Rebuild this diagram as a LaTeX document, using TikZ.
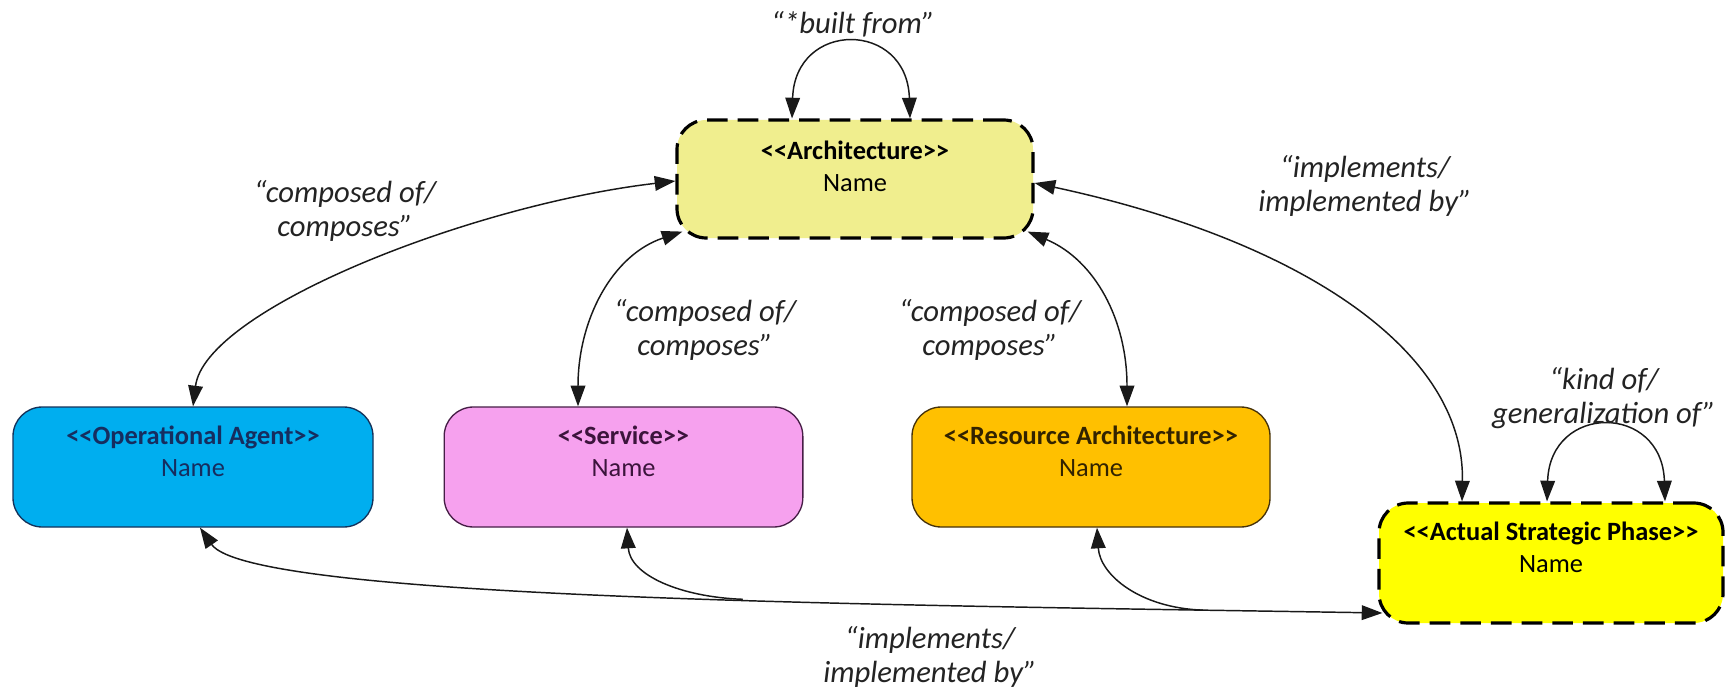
\documentclass[tikz,border=0pt]{standalone}
\usepackage{fontspec}
\setmainfont{Carlito}
\usetikzlibrary{arrows.meta,calc}

\definecolor{archfill}{RGB}{240,238,142}
\definecolor{agentfill}{RGB}{0,174,239}
\definecolor{servicefill}{RGB}{246,161,238}
\definecolor{resourcefill}{RGB}{255,192,0}
\definecolor{phasefill}{RGB}{255,255,0}
\definecolor{agentedge}{RGB}{20,50,90}
\definecolor{serviceedge}{RGB}{70,30,70}
\definecolor{resourceedge}{RGB}{70,50,10}
\definecolor{agentink}{RGB}{22,45,95}
\definecolor{serviceink}{RGB}{60,20,60}
\definecolor{resourceink}{RGB}{50,35,0}
\definecolor{inkline}{RGB}{25,25,25}
\definecolor{labelink}{RGB}{35,35,35}

\begin{document}
\begin{tikzpicture}[x=0.75pt, y=-0.75pt,
  >={Triangle[length=15.5pt,width=11pt]},
  solidbox/.style={rectangle, rounded corners=22pt, inner sep=0pt,
    minimum height=90pt, line width=1pt},
  dashbox/.style={rectangle, rounded corners=22pt, inner sep=0pt,
    minimum height=90pt, line width=2.4pt, draw=black,
    dash pattern=on 15.5pt off 7.5pt},
  stereo/.style={align=center, inner sep=0pt,
    font=\fontsize{19.8}{24}\selectfont},
  relabel/.style={align=center, inner sep=0pt, text=labelink,
    font=\fontsize{23}{26}\selectfont\itshape},
  link/.style={draw=inkline, line width=1.1pt},
]
\fill[white] (0,0) rectangle (1726,688);
\path[use as bounding box] (0,0) rectangle (1726,688);

% element boxes
\node[dashbox, fill=archfill, minimum width=267pt, minimum height=88.5pt] (arch) at (855,179) {};
\node[solidbox, fill=agentfill, draw=agentedge, minimum width=270pt] (oa) at (193,467) {};
\node[solidbox, fill=servicefill, draw=serviceedge, minimum width=269pt] (svc) at (623.5,467) {};
\node[solidbox, fill=resourcefill, draw=resourceedge, minimum width=268.5pt] (res) at (1091,467) {};
\node[dashbox, fill=phasefill, minimum width=258pt] (asp) at (1551,563) {};

% stereotype and name inside each box
\node[stereo] (arch-text) at ($(arch.center)+(0,-13)$) {\textbf{<\kern0pt<Architecture>\kern0pt>}\\Name};
\node[stereo, text=agentink] (oa-text) at ($(oa.center)+(0,-16)$) {\textbf{<\kern0pt<Operational Agent>\kern0pt>}\\Name};
\node[stereo, text=serviceink] (svc-text) at ($(svc.center)+(0,-16)$) {\textbf{<\kern0pt<Service>\kern0pt>}\\Name};
\node[stereo, text=resourceink] (res-text) at ($(res.center)+(0,-16)$) {\textbf{<\kern0pt<Resource Architecture>\kern0pt>}\\Name};
\node[stereo] (asp-text) at ($(asp.center)+(0,-16)$) {\textbf{<\kern0pt<Actual Strategic Phase>\kern0pt>}\\Name};

% composition links up to the architecture
\draw[link,<->] (oa.north) .. controls (205,310) and (470,205) .. ($(arch.west)+(0,2)$);
\draw[link,<->] ($(svc.north)+(-45.5,0)$) .. controls (578,320) and (612,255) .. ($(arch.south west)+(7,-8)$);
\draw[link,<->] ($(res.north)+(36,0)$) .. controls (1127,320) and (1095,260) .. ($(arch.south east)+(-7,-8)$);

% implementation link between phase and architecture
\draw[link,<->] ($(asp.north)+(-89,0)$) .. controls (1465,350) and (1300,240) .. ($(arch.east)+(0,4)$);

% self loops
\draw[link,<->] ($(arch.north)+(-63,0)$) .. controls (795,20) and (907,20) .. ($(arch.north)+(55,0)$);
\draw[link,<->] ($(asp.north)+(-4,0)$) .. controls (1550,403) and (1662,403) .. ($(asp.north)+(114,0)$);

% shared implementation link along the bottom, with its two branches
\draw[link,<->] ($(oa.south)+(7,0)$) .. controls (250,600) and (900,605) .. ($(asp.west)+(5,50)$)
  coordinate[pos=0.58] (jsvc) coordinate[pos=0.88] (jres);
\draw[link,->] (jsvc) .. controls (680,597) and (630,575) .. ($(svc.south)+(3.5,0)$);
\draw[link,->] (jres) .. controls (1140,608) and (1100,575) .. ($(res.south)+(6,0)$);

% relation labels
\node[relabel] (lbl-built) at (853,24) {“*built from”};
\node[relabel] (lbl-oa) at (345,211) {“composed of/\\composes”};
\node[relabel] (lbl-svc) at (705,330) {“composed of/\\composes”};
\node[relabel] (lbl-res) at (990,330) {“composed of/\\composes”};
\node[relabel] (lbl-impl) at (1365,186) {“implements/\\implemented by”};
\node[relabel] (lbl-kind) at (1604,398) {“kind of/\\generalization of”};
\node[relabel] (lbl-bottom) at (930,657) {“implements/\\implemented by”};
\end{tikzpicture}
\end{document}
